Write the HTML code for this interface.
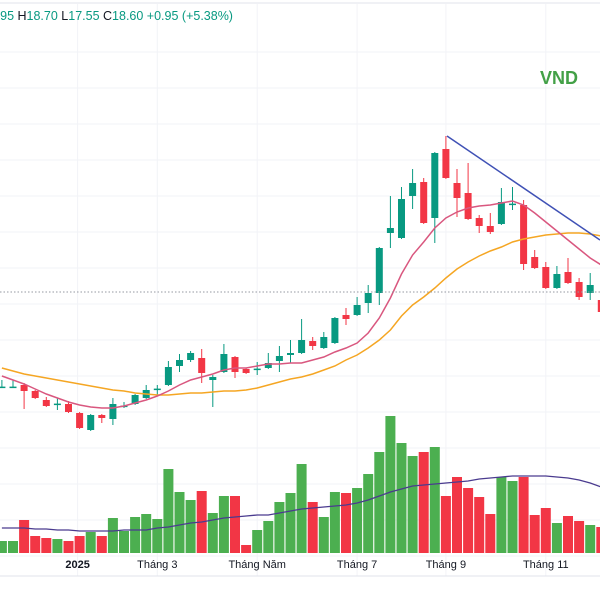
<!DOCTYPE html>
<html><head><meta charset="utf-8"><style>
html,body{margin:0;padding:0;background:#fff;width:600px;height:600px;overflow:hidden}
svg{display:block;font-family:"Liberation Sans",sans-serif}
</style></head><body>
<svg id="chart" width="600" height="600" viewBox="0 0 600 600">
<g id="grid"></g>
<line x1="0" y1="3" x2="600" y2="3" stroke="#e0e3eb"/>
<line x1="0" y1="576" x2="600" y2="576" stroke="#e0e3eb"/>
<g id="vol"></g>
<g id="candles"></g>
<g id="lines"></g>
<line x1="0" y1="292" x2="600" y2="292" stroke="#9598a1" stroke-dasharray="1.5,2" stroke-width="1"/>
<line x1="447" y1="136" x2="600" y2="240" stroke="#3f51b5" stroke-width="1.5"/>
<text x="-27" y="20" font-size="12.5" fill="#089981"><tspan fill="#131722">O</tspan>17.95 <tspan fill="#131722">H</tspan>18.70 <tspan fill="#131722">L</tspan>17.55 <tspan fill="#131722">C</tspan>18.60 +0.95 (+5.38%)</text>
<text x="540" y="84" font-size="18" font-weight="bold" fill="#43a047">VND</text>
<g id="xaxis"></g>
</svg>
<script>
const opens =[13.83,13.85,13.95,13.65,13.2,12.98,13.0,12.55,11.7,12.45,12.25,12.88,13.0,13.3,13.73,13.95,14.9,15.2,15.3,14.2,14.6,15.35,14.75,14.73,14.8,15.15,15.45,15.55,16.15,15.8,16.05,17.45,17.45,18.05,18.55,21.55,21.3,23.4,24.1,22.3,25.75,24.05,23.55,22.3,21.9,22.0,22.98,22.95,20.35,19.85,18.8,19.6,19.1,18.55,18.2];
const highs =[14.2,14.2,14.05,13.7,13.35,13.3,13.15,12.6,12.5,12.5,13.3,13.1,13.5,13.95,13.95,15.15,15.5,15.65,15.75,14.45,16.0,15.4,14.8,15.1,15.55,15.9,16.2,17.25,16.35,16.6,17.35,17.8,18.35,18.95,20.85,23.4,23.85,24.75,24.3,25.6,26.4,24.75,25.05,22.45,22.55,23.8,23.85,23.2,20.7,20.1,19.9,20.3,19.3,19.55,18.3];
const lows  =[13.83,13.83,12.75,13.25,12.85,12.7,12.55,11.75,11.65,12.05,11.95,12.8,12.95,13.25,13.45,13.9,14.6,15.1,14.05,12.85,14.55,14.3,14.5,14.45,14.75,14.6,15.05,15.5,15.7,15.75,16.0,16.95,17.4,17.55,17.95,20.8,21.25,22.75,22.0,21.05,24.25,22.35,22.2,21.55,21.5,21.95,22.7,19.7,19.75,18.75,18.75,19.0,18.2,18.2,17.55];
const closes=[13.87,13.87,13.65,13.3,12.9,13.02,12.6,11.8,12.45,12.3,13.0,12.92,13.45,13.7,13.77,14.85,15.2,15.55,14.55,14.35,15.5,14.6,14.55,14.77,15.05,15.4,15.55,16.2,15.9,16.35,17.3,17.25,17.95,18.55,20.8,21.8,23.25,24.05,22.05,25.55,24.3,23.3,22.25,21.9,21.6,23.1,23.02,20.0,19.8,18.8,19.5,19.05,18.35,18.95,17.6];
const volumes=[12,12,33,17,15,14,12,17,21,17,35,22,36,39,34,84,61,53,62,40,57,57,8,23,32,51,60,89,51,36,61,60,65,79,101,137,110,97,101,106,57,76,65,56,39,76,72,76,38,45,30,37,32,28,26];
const volMA=[25,25,25,24,24,23,23,22,22,22,22,23,23,23,25,26,28,30,31,33,35,36,37,38,38,40,42,44,45,46,47,48,50,53,57,61,64,67,68,69,70,71,72,74,75,76,77,77,77,77,76,75,73,70,66];
const maFast=[14.4,14.2,14.0,13.75,13.5,13.3,13.1,12.95,12.85,12.8,12.8,12.9,13.05,13.2,13.4,13.65,13.95,14.2,14.35,14.5,14.7,14.8,14.8,14.9,15.0,15.0,15.05,15.05,15.2,15.35,15.6,15.8,16.05,16.55,17.3,18.3,19.5,20.45,21.1,21.8,22.3,22.6,22.8,22.9,22.95,23.05,23.15,22.95,22.55,22.1,21.65,21.2,20.75,20.3,19.95];
const maSlow=[14.8,14.65,14.5,14.4,14.3,14.2,14.1,14.0,13.9,13.8,13.7,13.65,13.55,13.5,13.45,13.45,13.5,13.55,13.55,13.6,13.65,13.65,13.7,13.8,13.95,14.1,14.25,14.35,14.5,14.7,14.9,15.2,15.45,15.8,16.2,16.7,17.4,17.95,18.35,18.8,19.3,19.75,20.1,20.4,20.65,20.85,21.1,21.25,21.35,21.45,21.5,21.55,21.55,21.5,21.4];
const tickLabels=["2025","Tháng 3","Tháng Năm","Tháng 7","Tháng 9","Tháng 11"];
const tickIndex=[7,14,23,32,40,49];

const NS="http://www.w3.org/2000/svg";
const xOf=i=>1.9+11.1*i;
const yP=p=>292-(p-18.6)*20;
const yV=v=>553-v;
function mk(tag,attrs,parent){const e=document.createElementNS(NS,tag);for(const k in attrs)e.setAttribute(k,attrs[k]);parent.appendChild(e);return e;}
const grid=document.getElementById('grid');
for(let y=52;y<560;y+=36){const l=mk('line',{x1:0,x2:600,y1:y,y2:y,stroke:'#f2f3f7'},grid);

}
const xa=document.getElementById('xaxis');
tickIndex.forEach((ti,k)=>{const x=xOf(ti)-(k==0?2:0);
const l=mk('line',{x1:x,x2:x,y1:4,y2:576,stroke:'#f2f3f7'},grid);


const t=mk('text',{x:x,y:568,'text-anchor':'middle','font-size':'11',fill:'#131722','font-weight':k==0?'bold':'normal'},xa);
t.textContent=tickLabels[k];

});
const vg=document.getElementById('vol');
volumes.forEach((v,i)=>{const up=closes[i]>=opens[i];
const r=mk('rect',{x:xOf(i)-5,y:yV(v),width:10,height:v,fill:up?'#4caf50':'#f23645'},vg);

});
const vp=mk('polyline',{points:volMA.map((v,i)=>xOf(i)+','+yV(v)).join(' '),fill:'none',stroke:'#4a3b8f','stroke-width':1.3},vg);


const cg=document.getElementById('candles');
opens.forEach((o,i)=>{const c=closes[i],up=c>=o,col=up?'#089981':'#f23645',x=xOf(i);
const w=mk('line',{x1:x,x2:x,y1:yP(highs[i]),y2:yP(lows[i]),stroke:col,'stroke-width':1},cg);


const top=yP(Math.max(o,c)),h=Math.max(1.5,Math.abs(yP(o)-yP(c)));
const b=mk('rect',{x:x-3.5,y:top,width:7,height:h,fill:col},cg);

});
const lg=document.getElementById('lines');
const s=mk('polyline',{points:maSlow.map((v,i)=>xOf(i)+','+yP(v)).join(' '),fill:'none',stroke:'#f5a623','stroke-width':1.5},lg);


const f=mk('polyline',{points:maFast.map((v,i)=>xOf(i)+','+yP(v)).join(' '),fill:'none',stroke:'#d9577f','stroke-width':1.5},lg);


</script>
</body></html>
